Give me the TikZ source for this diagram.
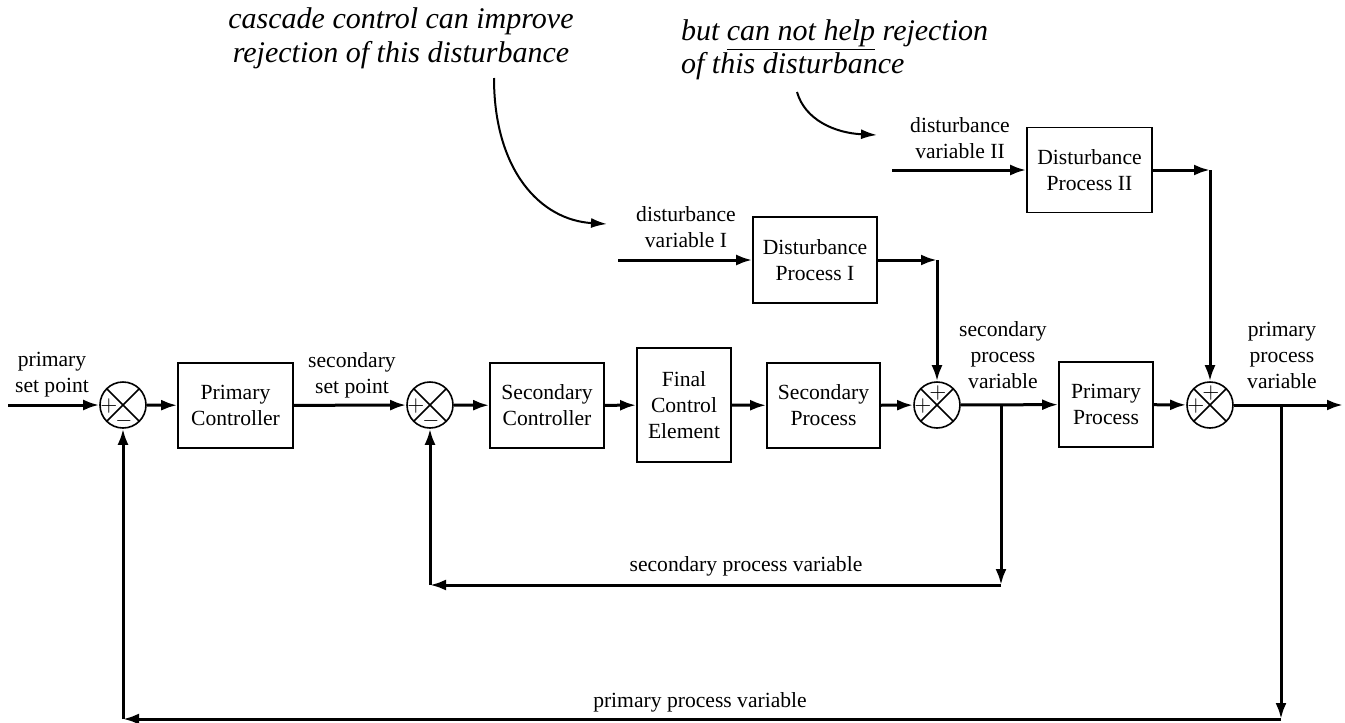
\documentclass[tikz,border=0pt]{standalone}
\usepackage{fontspec}
\setmainfont{Liberation Serif}
\usetikzlibrary{arrows.meta}
\begin{document}
\begin{tikzpicture}[x=.5pt,y=-.5pt,font=\fontsize{10.8}{13}\selectfont,
    blk/.style={draw,line width=.8pt,align=center,inner sep=0pt},
    sum/.style={draw,circle,line width=.8pt,minimum size=23pt,inner sep=0pt,
      path picture={\draw[line width=.8pt]
        (path picture bounding box.north west)--(path picture bounding box.south east)
        (path picture bounding box.north east)--(path picture bounding box.south west);}},
    sgn/.style={inner sep=0pt,font=\fontsize{10.5}{10.5}\selectfont},
    lbl/.style={align=center},
    note/.style={font=\fontsize{15}{17}\selectfont\itshape},
    sig/.style={line width=1.5pt,-{Latex[length=8pt,width=5.5pt]}},
    hint/.style={line width=1pt,-{Latex[length=8pt,width=5pt]}}]
      \useasboundingbox(0,0)rectangle(1345,723);
      % blocks
      \foreach \n/\x/\y/\w/\h/\t in{%
        pc/235.5/405.5/57.5pt/42.5pt/Primary\\Controller,
        sc/547/405.5/57pt/42.5pt/Secondary\\Controller,
        fce/684/405/47pt/57pt/Final\\Control\\Element,
        sp/823.5/405.5/56.5pt/42.5pt/Secondary\\Process,
        pp/1106/404.5/47pt/42.5pt/Primary\\Process,
        dp1/815/260/62pt/43pt/Disturbance\\Process I,
        dp2/1089.5/170/62.5pt/42.5pt/Disturbance\\Process II}{%
        \node[blk,minimum width=\w,minimum height=\h](\n) at(\x,\y){\t};
      }
      % summing points
      \foreach \n/\x in{s1/123, s2/430, s3/937, s4/1210}{%
        \node[sum](\n) at(\x,405){};
      }
      \node[sgn] at([shift={(-14,1)}]s1.center){$+$};
      \node[sgn] at([shift={(1,16)}]s1.center){$-$};
      \node[sgn] at([shift={(-14,1)}]s2.center){$+$};
      \node[sgn] at([shift={(1,16)}]s2.center){$-$};
      \node[sgn] at([shift={(-14,1)}]s3.center){$+$};
      \node[sgn] at([shift={(1,-12)}]s3.center){$+$};
      \node[sgn] at([shift={(-14,1)}]s4.center){$+$};
      \node[sgn] at([shift={(1,-12)}]s4.center){$+$};
      % free ends and corners
      \coordinate(in) at(8,405);
      \coordinate(out) at(1343,405);
      \coordinate(b1) at(1001,405);
      \coordinate(c1) at(1001,585);
      \coordinate(c2) at(430,585);
      \coordinate(b2) at(1281,405);
      \coordinate(c3) at(1281,719);
      \coordinate(c4) at(123,719);
      \coordinate(d1) at(618,260);
      \coordinate(e1) at(s3|-dp1);
      \coordinate(d2) at(892,170);
      \coordinate(e2) at(s4|-dp2);
      % forward path
      \draw[sig](in)--(s1);
      \draw[sig](s1)--(pc);
      \draw[sig](pc)--(s2);
      \draw[sig](s2)--(sc);
      \draw[sig](sc)--(fce);
      \draw[sig](fce)--(sp);
      \draw[sig](sp)--(s3);
      \draw[sig](s3)--(pp);
      \draw[sig](pp)--(s4);
      \draw[sig](s4)--(out);
      % feedback
      \draw[sig](b1)--(c1);
      \draw[sig](c1)--(c2);
      \draw[sig](c2)--(s2);
      \draw[sig](b2)--(c3);
      \draw[sig](c3)--(c4);
      \draw[sig](c4)--(s1);
      % disturbances
      \draw[sig](d1)--(dp1);
      \draw[sig](dp1)--(e1);
      \draw[sig](e1)--(s3);
      \draw[sig](d2)--(dp2);
      \draw[sig](dp2)--(e2);
      \draw[sig](e2)--(s4);
      % labels
      \node[lbl] at(52,375){primary\\set point};
      \node[lbl] at(352,375){secondary\\set point};
      \node[lbl] at(1003,355){secondary\\process\\variable};
      \node[lbl] at(1282,355){primary\\process\\variable};
      \node[lbl] at(686,227){disturbance\\variable I};
      \node[lbl] at(960,138){disturbance\\variable II};
      \node at(746,566){secondary process variable};
      \node at(700,702){primary process variable};
      % notes
      \node[note,align=center](n1) at(401,38){cascade control can improve\\rejection of this disturbance};
      \node[note,align=left,anchor=west,font=\fontsize{15}{15.5}\selectfont\itshape](n2) at(674,50)
           {but \underline{can not help} rejection\\of this disturbance};
      \coordinate(a1) at(494,78);
      \coordinate(a2) at(607,224);
      \coordinate(a3) at(797,92);
      \coordinate(a4) at(877,135);
      \draw[hint](a1) .. controls (494,170) and (540,220) .. (a2);
      \draw[hint](a3) .. controls (805,120) and (835,133) .. (a4);
    \end{tikzpicture}
\end{document}
